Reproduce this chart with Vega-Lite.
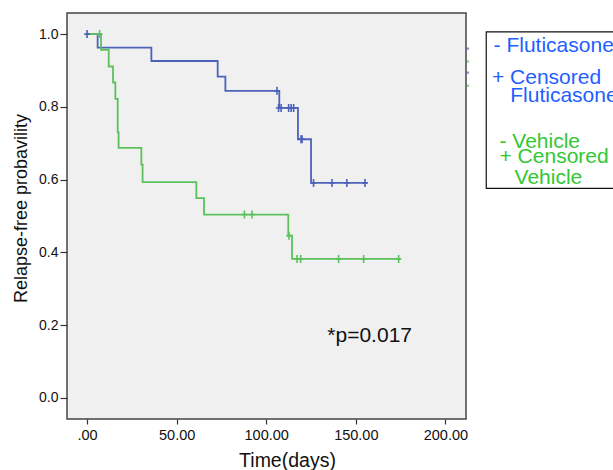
{
  "$schema": "https://vega.github.io/schema/vega-lite/v6.json",
  "autosize": {"type": "none"},
  "padding": {"left": 67, "top": 13, "right": 147, "bottom": 51},
  "width": 399,
  "height": 406,
  "background": "white",
  "config": {
    "view": {"fill": "#f0f0f0", "stroke": "#444444", "strokeWidth": 1.5},
    "font": "Liberation Sans"
  },
  "datasets": {
    "curves": [
      {"group": "Fluticasone", "t": 0, "s": 1.0},
      {"group": "Fluticasone", "t": 5.9, "s": 0.963},
      {"group": "Fluticasone", "t": 35.9, "s": 0.926},
      {"group": "Fluticasone", "t": 72.9, "s": 0.883},
      {"group": "Fluticasone", "t": 77.2, "s": 0.844},
      {"group": "Fluticasone", "t": 107.3, "s": 0.797},
      {"group": "Fluticasone", "t": 117.7, "s": 0.711},
      {"group": "Fluticasone", "t": 125.0, "s": 0.591},
      {"group": "Fluticasone", "t": 156.5, "s": 0.591},
      {"group": "Vehicle", "t": 0, "s": 1.0},
      {"group": "Vehicle", "t": 7.8, "s": 0.957},
      {"group": "Vehicle", "t": 12.1, "s": 0.911},
      {"group": "Vehicle", "t": 14.5, "s": 0.867},
      {"group": "Vehicle", "t": 15.8, "s": 0.822},
      {"group": "Vehicle", "t": 17.1, "s": 0.73},
      {"group": "Vehicle", "t": 17.6, "s": 0.687},
      {"group": "Vehicle", "t": 30.3, "s": 0.641},
      {"group": "Vehicle", "t": 31.0, "s": 0.593},
      {"group": "Vehicle", "t": 61.0, "s": 0.549},
      {"group": "Vehicle", "t": 65.3, "s": 0.504},
      {"group": "Vehicle", "t": 112.3, "s": 0.446},
      {"group": "Vehicle", "t": 114.4, "s": 0.382},
      {"group": "Vehicle", "t": 175.0, "s": 0.382}
    ],
    "censors": [
      {"group": "Fluticasone", "t": 0, "s": 1.0},
      {"group": "Fluticasone", "t": 106.0, "s": 0.844},
      {"group": "Fluticasone", "t": 106.9, "s": 0.797},
      {"group": "Fluticasone", "t": 108.3, "s": 0.797},
      {"group": "Fluticasone", "t": 112.5, "s": 0.797},
      {"group": "Fluticasone", "t": 113.9, "s": 0.797},
      {"group": "Fluticasone", "t": 115.3, "s": 0.797},
      {"group": "Fluticasone", "t": 119.4, "s": 0.711},
      {"group": "Fluticasone", "t": 120.0, "s": 0.711},
      {"group": "Fluticasone", "t": 126.4, "s": 0.591},
      {"group": "Fluticasone", "t": 136.7, "s": 0.591},
      {"group": "Fluticasone", "t": 145.0, "s": 0.591},
      {"group": "Fluticasone", "t": 155.1, "s": 0.591},
      {"group": "Vehicle", "t": 7.0, "s": 1.0},
      {"group": "Vehicle", "t": 87.8, "s": 0.504},
      {"group": "Vehicle", "t": 92.1, "s": 0.504},
      {"group": "Vehicle", "t": 112.7, "s": 0.446},
      {"group": "Vehicle", "t": 117.2, "s": 0.382},
      {"group": "Vehicle", "t": 119.2, "s": 0.382},
      {"group": "Vehicle", "t": 140.4, "s": 0.382},
      {"group": "Vehicle", "t": 154.4, "s": 0.382},
      {"group": "Vehicle", "t": 173.9, "s": 0.382}
    ],
    "legendText": [
      {"group": "Fluticasone", "label": "- Fluticasone", "t": 226.9, "s": 0.952},
      {"group": "Fluticasone", "label": "+ Censored", "t": 226.0, "s": 0.863},
      {"group": "Fluticasone", "label": "Fluticasone", "t": 236.2, "s": 0.813},
      {"group": "Vehicle", "label": "- Vehicle", "t": 230.2, "s": 0.687},
      {"group": "Vehicle", "label": "+ Censored", "t": 230.2, "s": 0.646},
      {"group": "Vehicle", "label": "Vehicle", "t": 238.6, "s": 0.589}
    ],
    "legendBox": [
      {"t1": 222.8, "t2": 300, "s1": 1.006, "s2": 0.576}
    ],
    "sideMarks": [
      {"group": "Fluticasone", "t": 212.6, "s": 0.96},
      {"group": "Vehicle", "t": 212.6, "s": 0.925},
      {"group": "Fluticasone", "t": 212.6, "s": 0.894},
      {"group": "Vehicle", "t": 212.6, "s": 0.858}
    ],
    "note": [
      {"label": "*p=0.017", "t": 134.1, "s": 0.154}
    ]
  },
  "layer": [
    {
      "data": {"name": "curves"},
      "mark": {"type": "line", "interpolate": "step-after", "strokeWidth": 1.8, "clip": false},
      "encoding": {
        "x": {
          "field": "t", "type": "quantitative",
          "scale": {"domain": [-11.2, 211.5], "nice": false, "zero": false},
          "axis": {
            "values": [0, 50, 100, 150, 200],
            "labelExpr": "datum.value == 0 ? '.00' : format(datum.value, '.2f')",
            "title": "Time(days)",
            "grid": false, "domain": false,
            "tickSize": 5, "tickColor": "#333333", "tickWidth": 1.2,
            "labelFontSize": 14.5, "labelColor": "#111111", "labelPadding": 4,
            "titleFontSize": 19.5, "titleFontWeight": "normal", "titleColor": "#111111",
            "titleX": 220, "titleY": 47, "titleBaseline": "alphabetic", "titleAnchor": null
          }
        },
        "y": {
          "field": "s", "type": "quantitative",
          "scale": {"domain": [-0.058, 1.058], "nice": false, "zero": false},
          "axis": {
            "values": [0, 0.2, 0.4, 0.6, 0.8, 1.0],
            "format": ".1f",
            "title": "Relapse-free probavility",
            "grid": false, "domain": false,
            "tickSize": 7, "tickColor": "#333333", "tickWidth": 1.2,
            "labelFontSize": 14, "labelColor": "#111111", "labelPadding": 2,
            "titleFontSize": 18, "titleFontWeight": "normal", "titleColor": "#111111",
            "titleX": -41, "titleY": 195, "titleBaseline": "alphabetic", "titleAnchor": null
          }
        },
        "color": {
          "field": "group", "type": "nominal",
          "scale": {"domain": ["Fluticasone", "Vehicle"], "range": ["#4c62b8", "#5cc15c"]},
          "legend": null
        },
        "detail": {"field": "group"}
      }
    },
    {
      "data": {"name": "censors"},
      "mark": {"type": "point", "shape": "M-0.7,0L0.7,0M0,-1L0,1", "size": 64, "strokeWidth": 1.6, "filled": false, "opacity": 1},
      "encoding": {
        "x": {"field": "t", "type": "quantitative"},
        "y": {"field": "s", "type": "quantitative"},
        "color": {"field": "group", "type": "nominal", "legend": null}
      }
    },
    {
      "data": {"name": "sideMarks"},
      "mark": {"type": "point", "shape": "square", "size": 5, "filled": true, "opacity": 0.7},
      "encoding": {
        "x": {"field": "t", "type": "quantitative"},
        "y": {"field": "s", "type": "quantitative"},
        "color": {"field": "group", "type": "nominal", "legend": null}
      }
    },
    {
      "data": {"name": "note"},
      "mark": {"type": "text", "align": "left", "baseline": "alphabetic", "fontSize": 21, "color": "#111111"},
      "encoding": {
        "x": {"field": "t", "type": "quantitative"},
        "y": {"field": "s", "type": "quantitative"},
        "text": {"field": "label"}
      }
    },
    {
      "data": {"name": "legendBox"},
      "mark": {"type": "rect", "fill": "white", "stroke": "#111111", "strokeWidth": 1.2, "clip": false},
      "encoding": {
        "x": {"field": "t1", "type": "quantitative"},
        "x2": {"field": "t2"},
        "y": {"field": "s1", "type": "quantitative"},
        "y2": {"field": "s2"}
      }
    },
    {
      "data": {"name": "legendText"},
      "transform": [{"filter": "datum.group == 'Fluticasone'"}],
      "mark": {"type": "text", "align": "left", "baseline": "alphabetic", "fontSize": 21, "color": "#1f5eff"},
      "encoding": {
        "x": {"field": "t", "type": "quantitative"},
        "y": {"field": "s", "type": "quantitative"},
        "text": {"field": "label"}
      }
    },
    {
      "data": {"name": "legendText"},
      "transform": [{"filter": "datum.group == 'Vehicle'"}],
      "mark": {"type": "text", "align": "left", "baseline": "alphabetic", "fontSize": 21, "color": "#33c733"},
      "encoding": {
        "x": {"field": "t", "type": "quantitative"},
        "y": {"field": "s", "type": "quantitative"},
        "text": {"field": "label"}
      }
    }
  ]
}
